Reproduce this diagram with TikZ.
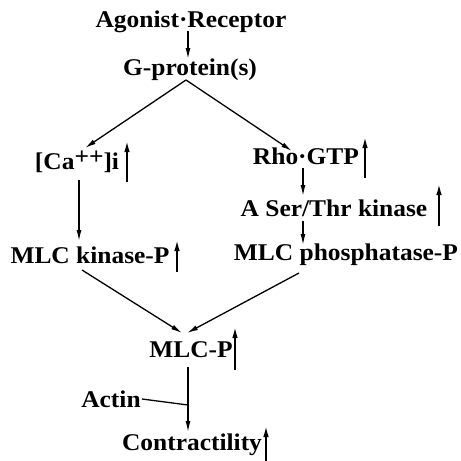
\documentclass[tikz,border=0pt]{standalone}
\usepackage{fontspec}
\setmainfont{Liberation Serif}
\usetikzlibrary{arrows.meta}
\newcommand\widetxt[1]{\scalebox{1.06}[1]{#1}}
\begin{document}
\begin{tikzpicture}[x=1pt,y=-1pt,
  lbl/.style={font=\bfseries\fontsize{24}{24}\selectfont, inner sep=0pt, anchor=center},
  arr/.style={-{Latex[length=11pt,width=5pt]}, line width=1.3pt},
  uparr/.style={-{Latex[length=12pt,width=5.5pt]}, line width=2pt},
  plain/.style={line width=1.3pt}]
\useasboundingbox (0,0) rectangle (461,461);
\fill[white] (0,0) rectangle (461,461);
% labels
\node[lbl] (ar) at (191,22) {\widetxt{Agonist·Receptor}};
\node[lbl] (gp) at (190,70) {\widetxt{G-protein(s)}};
\node[lbl] (ca) at (77,162) {\widetxt{[Ca\raisebox{0.45ex}{++}]i}};
\node[lbl] (rho) at (306,156) {\widetxt{Rho·GTP}};
\node[lbl] (ser) at (334,208) {\widetxt{A Ser/Thr kinase}};
\node[lbl] (mk) at (90,255) {\widetxt{MLC kinase-P}};
\node[lbl] (mp) at (346,255) {\widetxt{MLC phosphatase-P}};
\node[lbl] (mlcp) at (191,350) {\widetxt{MLC-P}};
\node[lbl] (actin) at (111,399) {\widetxt{Actin}};
\node[lbl] (con) at (192,445) {\widetxt{Contractility}};
% connectors
\draw[arr] ([shift={(-3,9)}]ar.center) -- ([shift={(-2,-11)}]gp.center);
\coordinate (apex) at ([shift={(-4,10)}]gp.center);
\draw[arr] (apex) -- ([shift={(8,-14)}]ca.center);
\draw[arr] (apex) -- ([shift={(-14,-5)}]rho.center);
\draw[arr] ([shift={(2,18)}]ca.center) -- ([shift={(-11,-14)}]mk.center);
\draw[arr] ([shift={(-3,12)}]rho.center) -- ([shift={(-31,-12)}]ser.center);
\draw[arr] ([shift={(-31,13)}]ser.center) -- ([shift={(-43,-10)}]mp.center);
\draw[arr] ([shift={(-8,15)}]mk.center) -- ([shift={(-9,-17)}]mlcp.center);
\draw[arr] ([shift={(-47,18)}]mp.center) -- ([shift={(-4,-17)}]mlcp.center);
\coordinate (join) at ([shift={(-4,-40)}]con.center);
\draw[arr] ([shift={(-3,17)}]mlcp.center) -- ([shift={(-4,-13)}]con.center);
\draw[plain] ([shift={(31,0)}]actin.center) -- (join);
% increase arrows
\draw[uparr] ([shift={(50,20)}]ca.center) -- ([shift={(50,-22)}]ca.center);
\draw[uparr] ([shift={(87,17)}]mk.center) -- ([shift={(87,-16)}]mk.center);
\draw[uparr] ([shift={(59,22)}]rho.center) -- ([shift={(59,-20)}]rho.center);
\draw[uparr] ([shift={(105,18)}]ser.center) -- ([shift={(105,-25)}]ser.center);
\draw[uparr] ([shift={(44,20)}]mlcp.center) -- ([shift={(44,-24)}]mlcp.center);
\draw[uparr] ([shift={(74,16)}]con.center) -- ([shift={(74,-20)}]con.center);
\end{tikzpicture}
\end{document}
